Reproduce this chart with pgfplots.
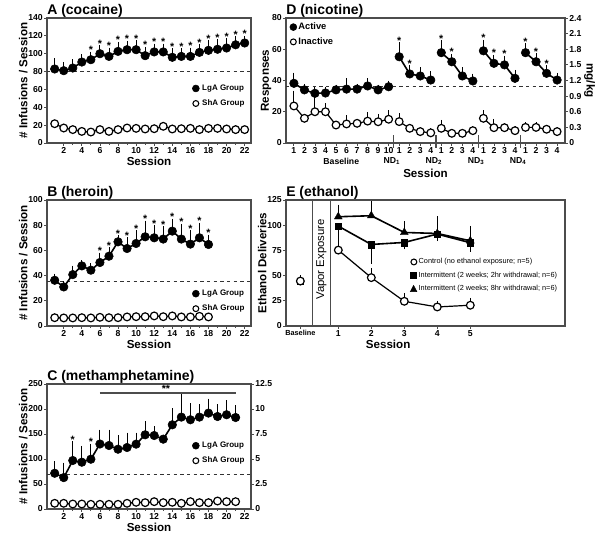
\documentclass[border=0pt]{standalone}
\usepackage{pgfplots}
\pgfplotsset{compat=1.18}
\usepackage{fontspec}
\setmainfont{Liberation Sans}
\definecolor{axgray}{gray}{0.3}
\pgfplotsset{
  every axis/.append style={
    scale only axis,
    anchor=south west,
    clip=false,
    axis line style={axgray, line width=0.8pt},
    tick align=outside,
    major tick length=2pt,
    minor tick length=1.2pt,
    tick style={axgray, line width=0.6pt},
    tick label style={font=\bfseries\fontsize{6.5}{7}\selectfont, inner sep=1pt},
    label style={font=\bfseries\fontsize{8.7}{10}\selectfont},
    every axis x label/.append style={yshift=1.5pt},
    every axis y label/.append style={yshift=-4pt},
    /pgf/number format/assume math mode=true,
    tick pos=left,
    legend cell align=left,
  },
  errp/.style={error bars/y dir=plus, error bars/y explicit, error bars/error bar style={line width=0.7pt, black}, error bars/error mark options={line width=0.7pt, mark size=2.2pt}},
  errm/.style={error bars/y dir=minus, error bars/y explicit, error bars/error bar style={line width=0.7pt, black}, error bars/error mark options={line width=0.7pt, mark size=2.2pt}},
  lga/.style={forget plot, black, line width=1.2pt, mark=*, mark size=3.2pt, mark options={solid, fill=black, line width=0.4pt}, errp},
  sha/.style={forget plot, black, line width=0.9pt, mark=*, mark size=2.9pt, mark options={solid, fill=white, line width=0.9pt}},
  star/.style={forget plot, only marks, mark=none, nodes near coords={*}, nodes near coords style={font=\bfseries\fontsize{8}{8}\selectfont, anchor=south, inner sep=0.5pt}},
  dashref/.style={forget plot, black!80, line width=0.8pt, dash pattern=on 2.5pt off 2.5pt},
  plainline/.style={forget plot, axgray, line width=0.8pt},
  legfill/.style={legend image code/.code={\fill[black] (2.6pt,0pt) circle (2.6pt);}},
  legopen/.style={legend image code/.code={\draw[black, line width=0.8pt, fill=white] (2.6pt,0pt) circle (2.2pt);}},
  legsq/.style={legend image code/.code={\fill[black] (0pt,-2.1pt) rectangle (4.2pt,2.1pt);}},
  legtri/.style={legend image code/.code={\fill[black] (0pt,-2pt) -- (4.8pt,-2pt) -- (2.4pt,2.6pt) -- cycle;}},
  legA/.style={legend style={at={(#1)}, anchor=north west, draw=none, fill=none, inner sep=0pt, font=\bfseries\fontsize{6}{7}\selectfont, row sep=1.5pt}},
}
\newcommand{\paneltitle}[1]{\node[font=\bfseries\fontsize{10.5}{12}\selectfont, anchor=base west, inner sep=0pt] at (rel axis cs:0,1) [yshift=3pt] {#1};}
\begin{document}
\begin{tikzpicture}
\useasboundingbox (0pt,0pt) rectangle (450pt,402.75pt);

% ---------------- A (cocaine)
\begin{axis}[at={(35.25pt,295.5pt)}, width=153pt, height=93.75pt,
  xmin=0.15, xmax=22.7, ymin=0, ymax=140,
  xtick={2,4,...,22}, ytick={0,20,...,140}, minor x tick num=1,
  xlabel={Session}, ylabel={\# Infusions / Session},
  legA={0.71,0.49}]
\addlegendimage{legfill}\addlegendentry{LgA Group}
\addlegendimage{legopen}\addlegendentry{ShA Group}
\addplot[dashref] coordinates {(0.15,80) (22.7,80)};
\addplot[sha] coordinates {(1,21.6)(2,16.8)(3,15)(4,13)(5,12.3)(6,15)(7,13)(8,15)(9,16.8)(10,16.4)(11,15.7)(12,16)(13,18.7)(14,15.7)(15,16)(16,16.4)(17,15)(18,16.4)(19,16.4)(20,15.7)(21,15)(22,15)};
\addplot[lga] coordinates {
(1,82.9) +- (0,9) (2,81) +- (0,6.7) (3,84) +- (0,6.7) (4,90.7) +- (0,5.6) (5,93.3) +- (0,5.7)
(6,100) +- (0,6.4) (7,97) +- (0,6.4) (8,102.6) +- (0,7.4) (9,104.5) +- (0,6.5) (10,104.5) +- (0,7.5)
(11,97.8) +- (0,6.7) (12,102) +- (0,6) (13,102) +- (0,6) (14,96) +- (0,6.6) (15,97) +- (0,5.6)
(16,97) +- (0,6.4) (17,101.5) +- (0,6) (18,103.8) +- (0,8.2) (19,105) +- (0,7.7) (20,106.4) +- (0,7.4)
(21,110) +- (0,6.5) (22,112) +- (0,4.8)};
\addplot[star] coordinates {(5,99)(6,106.4)(7,103.4)(8,110)(9,111)(10,112)(11,104.5)(12,108)(13,108)(14,102.6)(15,102.6)(16,103.4)(17,107.5)(18,112)(19,112.7)(20,113.8)(21,116.5)(22,116.8)};
\paneltitle{A (cocaine)}
\end{axis}

% ---------------- B (heroin)
\begin{axis}[at={(35.25pt,158.25pt)}, width=153pt, height=94.5pt,
  xmin=0.15, xmax=22.7, ymin=0, ymax=100,
  xtick={2,4,...,22}, ytick={0,20,...,100}, minor x tick num=1,
  xlabel={Session}, ylabel={\# Infusions / Session},
  legA={0.71,0.31}]
\addlegendimage{legfill}\addlegendentry{LgA Group}
\addlegendimage{legopen}\addlegendentry{ShA Group}
\addplot[dashref] coordinates {(0.15,35.5) (22.7,35.5)};
\addplot[sha] coordinates {(1,6.6)(2,6.4)(3,6.4)(4,6.6)(5,6.4)(6,6.9)(7,6.6)(8,6.6)(9,7.2)(10,7.4)(11,7.4)(12,8)(13,7.4)(14,8)(15,7.2)(16,7.2)(17,7.7)(18,7.2)};
\addplot[lga] coordinates {
(1,36.3) +- (0,3) (2,31) +- (0,2) (3,40.8) +- (0,4.8) (4,47.7) +- (0,2) (5,44.3) +- (0,3)
(6,50.4) +- (0,5.6) (7,55.4) +- (0,4.6) (8,66.8) +- (0,2.7) (9,61.5) +- (0,6.5) (10,65.5) +- (0,8)
(11,70.8) +- (0,10.6) (12,70) +- (0,7.5) (13,69) +- (0,8) (14,75.3) +- (0,7.5) (15,69) +- (0,9.8)
(16,65) +- (0,8.5) (17,70) +- (0,9.6) (18,64.7) +- (0,5.3)};
\addplot[star] coordinates {(6,56)(7,60)(8,69.5)(9,68)(10,73.5)(11,81.4)(12,77.5)(13,77)(14,82.8)(15,78.8)(16,73.5)(17,79.6)(18,70)};
\paneltitle{B (heroin)}
\end{axis}

% ---------------- C (methamphetamine)
\begin{axis}[at={(35.25pt,21pt)}, width=153pt, height=93.75pt,
  xmin=0.15, xmax=22.7, ymin=0, ymax=250,
  xtick={2,4,...,22}, ytick={0,50,...,250}, minor x tick num=1,
  xlabel={Session}, ylabel={\# Infusions / Session},
  legA={0.71,0.56}]
\addlegendimage{legfill}\addlegendentry{LgA Group}
\addlegendimage{legopen}\addlegendentry{ShA Group}
\addplot[dashref] coordinates {(0.15,69.5) (22.7,69.5)};
\addplot[sha] coordinates {(1,11.4)(2,11.4)(3,10)(4,10)(5,9.4)(6,9.4)(7,9.4)(8,9.4)(9,11.4)(10,13.4)(11,12.7)(12,14.7)(13,12.7)(14,13.4)(15,11.4)(16,14.7)(17,12.7)(18,12.7)(19,16)(20,14.7)(21,14.7)};
\addplot[lga] coordinates {
(1,71.5) +- (0,18.5) (2,62.8) +- (0,24) (3,97) +- (0,33) (4,93.6) +- (0,27) (5,99.6) +- (0,25.4)
(6,130) +- (0,23) (7,127) +- (0,26) (8,119.6) +- (0,22) (9,123) +- (0,24) (10,129.7) +- (0,17)
(11,148.4) +- (0,21) (12,147) +- (0,13) (13,139.7) +- (0,3) (14,168.4) +- (0,27) (15,183.8) +- (0,43)
(16,178.5) +- (0,27) (17,183.8) +- (0,20) (18,191.8) +- (0,23) (19,185) +- (0,19) (20,188.5) +- (0,23.5)
(21,183) +- (0,19)};
\addplot[star] coordinates {(3,130)(5,125)};
\addplot[plainline] coordinates {(6,232) (21,232)};
\node[font=\bfseries\fontsize{8}{8}\selectfont, anchor=south, inner sep=0.5pt] at (axis cs:13.3,232) {**};
\paneltitle{C (methamphetamine)}
\end{axis}
\begin{axis}[at={(35.25pt,21pt)}, width=153pt, height=93.75pt,
  axis x line=none, axis y line*=right, xmin=0, xmax=1, ymin=0, ymax=12.5,
  ytick={0,2.5,5,7.5,10,12.5}, ytick pos=right,
  yticklabel style={/pgf/number format/fixed}]
\end{axis}

% ---------------- D (nicotine)
\begin{axis}[at={(214.5pt,295.5pt)}, width=209.25pt, height=93.75pt,
  xmin=0.25, xmax=26.75, ymin=0, ymax=80,
  xtick={1,...,26}, xticklabels={1,2,3,4,5,6,7,8,9,10,1,2,3,4,1,2,3,4,1,2,3,4,1,2,3,4},
  ytick={0,20,...,80}, ylabel={Responses},
  legend style={at={(0.012,0.975)}, anchor=north west, draw=none, fill=none, inner sep=0pt, font=\bfseries\fontsize{7}{8}\selectfont, row sep=2.5pt, nodes={inner sep=1pt}}]
\addlegendimage{legfill}\addlegendentry{Active}
\addlegendimage{legopen}\addlegendentry{Inactive}
\addplot[dashref] coordinates {(0.25,36) (26.75,36)};
% separators
\addplot[plainline] coordinates {(10.5,5) (10.5,-3.5)};
\addplot[plainline] coordinates {(14.5,5) (14.5,-3.5)};
\addplot[plainline] coordinates {(18.5,5) (18.5,-3.5)};
\addplot[plainline] coordinates {(22.5,5) (22.5,-3.5)};
% inactive
\addplot[sha, errp] coordinates {(1,23.7) +- (0,8) (2,15.8) +- (0,1) (3,20) +- (0,8.5) (4,20) +- (0,3.6) (5,11.5) +- (0,1) (6,12.2) +- (0,3.6) (7,12.6) +- (0,1) (8,14) +- (0,3.8) (9,13.6) +- (0,3.2) (10,15.2) +- (0,3.8)};
\addplot[sha, errp] coordinates {(11,13.7) +- (0,3.6) (12,9.4) +- (0,1) (13,7.3) +- (0,1) (14,6.5) +- (0,1)};
\addplot[sha, errp] coordinates {(15,9.4) +- (0,3.6) (16,6.2) +- (0,1) (17,6.2) +- (0,1) (18,7.9) +- (0,1)};
\addplot[sha, errp] coordinates {(19,15.8) +- (0,3.2) (20,9.8) +- (0,3.8) (21,9.8) +- (0,1) (22,7.9) +- (0,1)};
\addplot[sha, errp] coordinates {(23,10) +- (0,1.5) (24,10) +- (0,1.5) (25,8.8) +- (0,1) (26,7.3) +- (0,1)};
% active
\addplot[lga] coordinates {(1,38.2) +- (0,5) (2,34) +- (0,2) (3,31.8) +- (0,2) (4,32) +- (0,2) (5,34) +- (0,1.5) (6,34.5) +- (0,5.2) (7,34.5) +- (0,1.5) (8,36.5) +- (0,3.2) (9,34) +- (0,1.5) (10,36) +- (0,2)};
\addplot[lga] coordinates {(11,55.2) +- (0,7.5) (12,44.2) +- (0,3.6) (13,42.9) +- (0,3.8) (14,40.3) +- (0,3.7)};
\addplot[lga] coordinates {(15,57.8) +- (0,6) (16,52) +- (0,3.2) (17,42.9) +- (0,3.8) (18,39.7) +- (0,2.8)};
\addplot[lga] coordinates {(19,59) +- (0,5.2) (20,51) +- (0,3.6) (21,50) +- (0,4) (22,41.4) +- (0,3.6)};
\addplot[lga] coordinates {(23,57.8) +- (0,4.2) (24,52) +- (0,3.7) (25,44.6) +- (0,3.2) (26,40.3) +- (0,2.7)};
\addplot[star] coordinates {(11,62.7)(12,47.8)(15,63.8)(16,55.2)(19,64.2)(20,54.6)(21,54)(23,62)(24,55.7)(25,47.8)};
\begin{scope}[font=\bfseries\fontsize{6.5}{7}\selectfont]
\node at (axis cs:5.5,0) [yshift=-13.5pt] {Baseline};
\node at (axis cs:10.3,0) [yshift=-13.5pt] {ND\textsubscript{1}};
\node at (axis cs:14.3,0) [yshift=-13.5pt] {ND\textsubscript{2}};
\node at (axis cs:18.3,0) [yshift=-13.5pt] {ND\textsubscript{3}};
\node at (axis cs:22.3,0) [yshift=-13.5pt] {ND\textsubscript{4}};
\end{scope}
\node[font=\bfseries\fontsize{8.7}{10}\selectfont] at (rel axis cs:0.5,0) [yshift=-22.5pt] {Session};
\node[xshift=18.5pt, rotate=-90, font=\bfseries\fontsize{8.7}{10}\selectfont] at (rel axis cs:1,0.5) {mg/kg};
\paneltitle{D (nicotine)}
\end{axis}
\begin{axis}[at={(214.5pt,295.5pt)}, width=209.25pt, height=93.75pt,
  axis x line=none, axis y line*=right, xmin=0, xmax=1, ymin=0, ymax=2.4,
  ytick={0,0.3,0.6,0.9,1.2,1.5,1.8,2.1,2.4}, ytick pos=right,
  yticklabel style={/pgf/number format/fixed, /pgf/number format/precision=1}]
\end{axis}

% ---------------- E (ethanol)
\begin{axis}[at={(214.5pt,158.25pt)}, width=209.25pt, height=94.5pt,
  xmin=-0.585, xmax=7.87, ymin=0, ymax=125,
  xtick={-0.15,1,2,3,4,5}, xticklabels={{\fontsize{5.5}{6}\selectfont Baseline},1,2,3,4,5},
  ytick={0,25,...,125}, xlabel={Session}, ylabel={Ethanol Deliveries},
  xlabel style={at={(ticklabel cs:0.366)}},
  legend style={at={(0.444,0.55)}, anchor=north west, draw=none, fill=none, inner sep=0pt, font=\fontsize{5.5}{6}\selectfont, row sep=2.6pt, nodes={inner sep=1pt}}]
\addlegendimage{legopen}\addlegendentry{Control (no ethanol exposure; n=5)}
\addlegendimage{legsq}\addlegendentry{Intermittent (2 weeks; 2hr withdrawal; n=6)}
\addlegendimage{legtri}\addlegendentry{Intermittent (2 weeks; 8hr withdrawal; n=6)}
\addplot[plainline] coordinates {(0.224,0) (0.224,125)};
\addplot[plainline] coordinates {(0.75,0) (0.75,125)};
\node[rotate=90, font=\fontsize{8.5}{9}\selectfont] at (axis cs:0.487,66) {Vapor Exposure};
% triangle
\addplot[forget plot, black, line width=1.2pt, mark=triangle*, mark size=3.4pt, mark options={solid, fill=black, line width=0.3pt}, errp] coordinates {(1,108.4) +- (0,9) (2,109.4) +- (0,11.3) (3,92.8) +- (0,8) (4,91.8) +- (0,14) (5,84.5) +- (0,12)};
% square
\addplot[forget plot, black, line width=1.2pt, mark=square*, mark size=2.5pt, mark options={solid, fill=black, line width=0.3pt}, errm] coordinates {(1,99.1) +- (0,14) (2,80.9) +- (0,16) (3,82.9) +- (0,4) (4,91.2) +- (0,4) (5,82.6) +- (0,6)};
% circle
\addplot[sha, errp] coordinates {(1,75.3) +- (0,5.5) (2,48) +- (0,6.5) (3,24.5) +- (0,5.5) (4,18.9) +- (0,3) (5,20.6) +- (0,4.5)};
% baseline
\addplot[forget plot, only marks, black, mark=triangle*, mark size=2.8pt] coordinates {(-0.15,45)};
\addplot[forget plot, only marks, black, mark=square*, mark size=2.2pt] coordinates {(-0.15,44)};
\addplot[sha, only marks, errp] coordinates {(-0.15,44.6) +- (0,3)};
\paneltitle{E (ethanol)}
\end{axis}
\end{tikzpicture}
\end{document}
